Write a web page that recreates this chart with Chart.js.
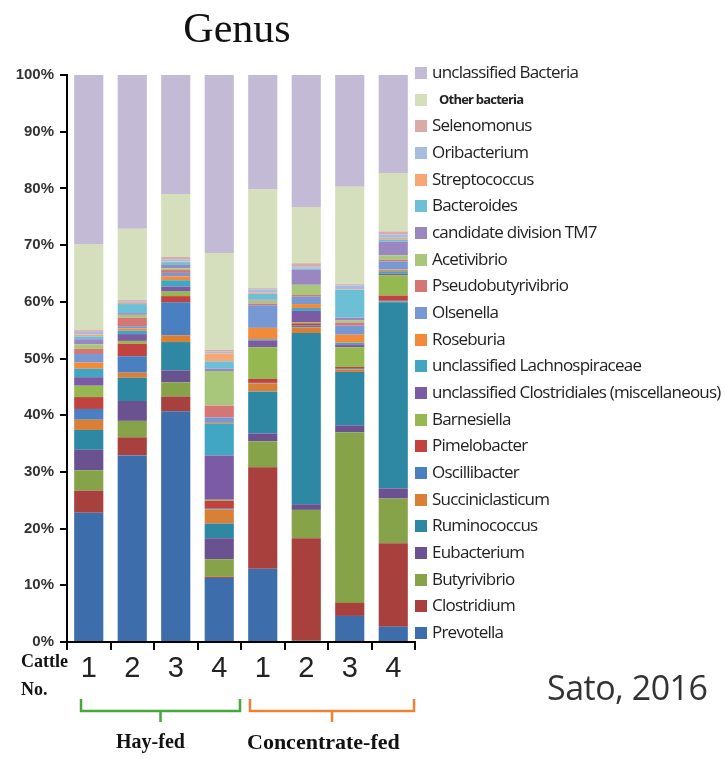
<!DOCTYPE html>
<html>
<head>
<meta charset="utf-8">
<script src="https://cdn.jsdelivr.net/npm/chart.js@4.4.1/dist/chart.umd.min.js"></script>
<style>
  body { margin: 0; background: #fff; width: 725px; height: 759px; overflow: hidden; position: relative; }
  #chart { position: absolute; left: 0; top: 0; }
  .title { position: absolute; left: 137px; width: 200px; top: 4px; text-align: center; font: 42px "Liberation Serif", serif; color: #111; }
  #legend { position: absolute; left: 415px; top: 0; }
  .item { position: absolute; left: 0; height: 22px; white-space: nowrap; font: 17px "Open Sans", sans-serif; letter-spacing: -0.78px; color: #222; }
  .item i { position: absolute; left: 0; top: 5px; width: 12px; height: 12px; }
  .item span { position: absolute; left: 17px; top: -2px; }
  .note { position: absolute; font: bold 18px "Liberation Serif", serif; color: #111; white-space: nowrap; }
  .cite { position: absolute; left: 547px; top: 664px; font: 34px "Open Sans", sans-serif; color: #333; letter-spacing: -0.5px; }
</style>
</head>
<body>
<canvas id="chart" width="725" height="759"></canvas>
<div class="title">Genus</div>
<div id="legend"></div>
<div class="note" style="left:21px; top:651px;">Cattle</div>
<div class="note" style="left:21px; top:679px;">No.</div>
<div class="note" style="left:116px; top:730px; font-size:20px;">Hay-fed</div>
<div class="note" style="left:247px; top:729px; font-size:22px;">Concentrate-fed</div>
<div class="cite">Sato, 2016</div>
<script>
// cattle numbers (hay-fed 1-4, concentrate-fed 1-4)
const cattle = ['1', '2', '3', '4', '1', '2', '3', '4'];
const yTicks = [0, 10, 20, 30, 40, 50, 60, 70, 80, 90, 100];

// relative abundance (%) per genus
const prevotella        = [22.8, 32.9, 40.7, 11.3, 12.9,  0.2,  4.6,  2.7];
const clostridium       = [ 3.9,  3.2,  2.6,  0.2, 17.9, 18.1,  2.3, 14.7];
const butyrivibrio      = [ 3.6,  2.9,  2.5,  3.1,  4.6,  5.0, 30.1,  7.9];
const eubacterium       = [ 3.6,  3.5,  2.1,  3.7,  1.4,  1.0,  1.2,  1.8];
const ruminococcus      = [ 3.5,  4.1,  5.0,  2.6,  7.4, 30.2,  9.4, 32.8];
const succiniclasticum  = [ 1.8,  0.9,  1.2,  2.5,  1.4,  1.0,  0.5,  0.2];
const oscillibacter     = [ 1.9,  2.9,  5.8,  0.2,  0.1,  0.3,  0.2,  0.2];
const pimelobacter      = [ 2.1,  2.2,  1.1,  1.3,  0.7,  0.4,  0.2,  0.8];
const barnesiella       = [ 2.0,  0.5,  0.8,  0.2,  5.6,  0.2,  3.5,  3.6];
const clostridiales     = [ 1.5,  1.2,  0.9,  7.8,  1.2,  2.0,  0.5,  0.3];
const lachnospiraceae   = [ 1.5,  0.6,  1.1,  5.7,  0.2,  0.5,  0.3,  0.4];
const roseburia         = [ 1.1,  0.4,  0.7,  0.2,  2.0,  0.7,  1.4,  0.3];
const olsenella         = [ 1.5,  0.4,  0.6,  0.8,  4.0,  1.3,  1.6,  1.4];
const pseudobutyrivibrio= [ 0.9,  1.5,  0.5,  2.1,  0.3,  0.3,  0.5,  0.3];
const acetivibrio       = [ 0.8,  0.5,  0.3,  6.1,  0.5,  1.8,  0.4,  0.8];
const tm7               = [ 0.9,  0.3,  0.6,  0.4,  0.2,  2.7,  0.5,  2.4];
const bacteroides       = [ 0.5,  1.6,  0.5,  1.3,  1.0,  0.2,  4.9,  0.4];
const streptococcus     = [ 0.3,  0.2,  0.1,  1.4,  0.2,  0.1,  0.1,  0.3];
const oribacterium      = [ 0.5,  0.3,  0.4,  0.3,  0.6,  0.3,  0.7,  0.6];
const selenomonus       = [ 0.3,  0.2,  0.4,  0.3,  0.2,  0.5,  0.2,  0.5];
const otherBacteria     = [15.2, 12.6, 11.1, 17.1, 17.4,  9.9, 17.2, 10.3];
const unclassifiedBact  = [29.8, 27.1, 21.0, 31.4, 20.2, 23.3, 19.7, 17.3];

// bottom of the stack first
const series = [
  ['Prevotella', prevotella, '#3e6dab'],
  ['Clostridium', clostridium, '#a8403e'],
  ['Butyrivibrio', butyrivibrio, '#86a34a'],
  ['Eubacterium', eubacterium, '#6a5290'],
  ['Ruminococcus', ruminococcus, '#2e88a3'],
  ['Succiniclasticum', succiniclasticum, '#d97f36'],
  ['Oscillibacter', oscillibacter, '#4a7fc2'],
  ['Pimelobacter', pimelobacter, '#c2423f'],
  ['Barnesiella', barnesiella, '#96b851'],
  ['unclassified Clostridiales (miscellaneous)', clostridiales, '#7b5ba3'],
  ['unclassified Lachnospiraceae', lachnospiraceae, '#40a6c2'],
  ['Roseburia', roseburia, '#f28a3a'],
  ['Olsenella', olsenella, '#7898d3'],
  ['Pseudobutyrivibrio', pseudobutyrivibrio, '#d47673'],
  ['Acetivibrio', acetivibrio, '#a9c77a'],
  ['candidate division TM7', tm7, '#9a86c0'],
  ['Bacteroides', bacteroides, '#6dbfd6'],
  ['Streptococcus', streptococcus, '#f8a673'],
  ['Oribacterium', oribacterium, '#a7bddf'],
  ['Selenomonus', selenomonus, '#d8aaa8'],
  ['Other bacteria', otherBacteria, '#d5dfbd'],
  ['unclassified Bacteria', unclassifiedBact, '#c3bbd5']
];

const datasets = series.map(s => ({
  label: s[0],
  data: s[1],
  backgroundColor: s[2],
  borderWidth: 0,
  barPercentage: 1,
  categoryPercentage: 0.67
}));

// brackets under the cattle numbers
const bracketPlugin = {
  id: 'brackets',
  afterDraw(chart) {
    const ctx = chart.ctx;
    const x = chart.scales.x;
    const half = (x.getPixelForValue(1) - x.getPixelForValue(0)) / 2;
    const groups = [
      [x.getPixelForValue(0) - half + 14, x.getPixelForValue(3) + half - 1, '#43a93a'],
      [x.getPixelForValue(4) - half + 9, x.getPixelForValue(7) + half - 1, '#ee8230']
    ];
    ctx.save();
    ctx.lineWidth = 2.5;
    groups.forEach(g => {
      const mid = (g[0] + g[1]) / 2;
      ctx.strokeStyle = g[2];
      ctx.beginPath();
      ctx.moveTo(g[0], 699);
      ctx.lineTo(g[0], 711);
      ctx.lineTo(g[1], 711);
      ctx.lineTo(g[1], 699);
      ctx.moveTo(mid, 711);
      ctx.lineTo(mid, 722);
      ctx.stroke();
    });
    ctx.restore();
  }
};

const chart = new Chart(document.getElementById('chart'), {
  type: 'bar',
  data: { labels: cattle, datasets: datasets },
  plugins: [bracketPlugin],
  options: {
    responsive: false,
    animation: false,
    layout: { padding: { left: 2, top: 75, right: 310, bottom: 77 } },
    plugins: { legend: { display: false }, tooltip: { enabled: false } },
    scales: {
      x: {
        stacked: true,
        afterFit: s => { s.height = 40; },
        border: { color: '#000', width: 2 },
        grid: { drawOnChartArea: false, color: '#000', lineWidth: 2, tickLength: 8 },
        ticks: { color: '#222', padding: 2, font: { family: 'Liberation Sans Narrow, Liberation Sans, sans-serif', size: 29 } }
      },
      y: {
        stacked: true,
        min: 0,
        max: 100,
        afterFit: s => { s.width = 65; },
        afterBuildTicks: s => { s.ticks = yTicks.map(v => ({ value: v })); },
        border: { color: '#000', width: 2 },
        grid: { drawOnChartArea: false, color: '#000', lineWidth: 2, tickLength: 7 },
        ticks: { color: '#333', padding: 6, font: { family: 'Liberation Sans, Arial, sans-serif', size: 15, weight: 'bold' }, callback: v => v + '%' }
      }
    }
  }
});

// legend: top entry is the top of the stack
const legend = document.getElementById('legend');
chart.data.datasets.slice().reverse().forEach((ds, i) => {
  const div = document.createElement('div');
  div.className = 'item';
  div.style.top = (62 + i * 26.67) + 'px';
  const box = document.createElement('i');
  box.style.background = ds.backgroundColor;
  const txt = document.createElement('span');
  txt.textContent = ds.label;
  if (ds.label === 'Other bacteria') {
    txt.style.font = 'bold 13px "Open Sans", sans-serif';
    txt.style.left = '24px';
    txt.style.top = '1px';
  }
  div.appendChild(box);
  div.appendChild(txt);
  legend.appendChild(div);
});
</script>
</body>
</html>
